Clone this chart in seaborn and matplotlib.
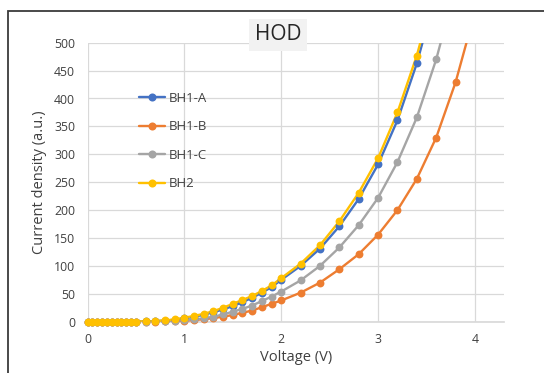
import numpy as np
import pandas as pd
import matplotlib.pyplot as plt
import seaborn as sns
from matplotlib.lines import Line2D
from matplotlib.patches import Rectangle

# voltage steps (V): 0.05 up to 0.5, 0.1 up to 2.0, then 0.2
voltage = [0.0, 0.05, 0.1, 0.15, 0.2, 0.25, 0.3, 0.35, 0.4, 0.45, 0.5,
           0.6, 0.7, 0.8, 0.9, 1.0, 1.1, 1.2, 1.3, 1.4, 1.5, 1.6, 1.7, 1.8, 1.9, 2.0,
           2.2, 2.4, 2.6, 2.8, 3.0, 3.2, 3.4, 3.6, 3.8, 4.0]

low = [0, 0, 0, 0, 0, 0, 0, 0.1, 0.1, 0.1, 0.2]

bh1_a = low + [0.5, 1.0, 2.0, 3.5, 6, 9, 12.5, 17, 22, 28, 35, 43, 52, 62, 75,
               100, 131, 171, 220, 282, 361, 463, 590]
bh1_b = low + [0.1, 0.3, 0.6, 1.0, 1.8, 3, 4.5, 6.5, 9, 12, 16, 20, 26, 32, 38,
               52, 70, 94, 121, 156, 200, 256, 330, 429, 555]
bh1_c = low + [0.2, 0.4, 0.8, 1.5, 2.5, 4, 6, 9, 13, 18, 23, 29, 37, 45, 54,
               74, 100, 133, 173, 222, 286, 366, 470, 600]
bh2 = low + [0.6, 1.2, 2.3, 4.0, 7, 10.5, 14, 19, 25, 32, 39, 46, 55, 65, 78,
             104, 137, 180, 231, 293, 375, 477, 605]

series = ['BH1-A', 'BH1-B', 'BH1-C', 'BH2']
values = [bh1_a, bh1_b, bh1_c, bh2]
colors = ['#4472C4', '#ED7D31', '#A5A5A5', '#FFC000']

sns.set_theme(style='white')
plt.rcParams['font.family'] = ['Open Sans', 'DejaVu Sans']

fig = plt.figure(figsize=(5.44, 3.73), dpi=100)
ax = fig.add_axes([87.5 / 544, 1 - 321.7 / 373, (504 - 87.5) / 544, (321.7 - 42.7) / 373])

for name, vals, col in zip(series, values, colors):
    df = pd.DataFrame({'V': voltage[:len(vals)], 'J': vals})
    sns.lineplot(data=df, x='V', y='J', color=col, lw=1.7, ax=ax, zorder=3)
    vis = df[df['J'] <= 500]
    sns.scatterplot(data=vis, x='V', y='J', color=col, s=32, linewidth=0,
                    ax=ax, zorder=4, clip_on=False)

ax.set_xlim(0, 4.3)
ax.set_ylim(0, 500)
ax.set_xticks([0, 1, 2, 3, 4])
ax.set_yticks(np.arange(0, 501, 50))
ax.grid(True, color='#D9D9D9', lw=0.9)
ax.set_axisbelow(True)
for side in ['top', 'right', 'left']:
    ax.spines[side].set_visible(False)
ax.spines['bottom'].set_color('#D9D9D9')
ax.tick_params(axis='both', length=0, labelsize=8.8, colors='#404040')
ax.tick_params(axis='y', pad=9)
ax.tick_params(axis='x', pad=8)
ax.set_xlabel('Voltage (V)', fontsize=10.5, color='#404040', labelpad=3)
ax.set_ylabel('Current density (a.u.)', fontsize=10.5, color='#404040', labelpad=5)

handles = [Line2D([], [], color=c, lw=1.7, marker='o', markersize=5.8,
                  markeredgewidth=0) for c in colors]
ax.legend(handles, series, loc='upper left', bbox_to_anchor=(139 / 544, 1 - 92 / 373),
          bbox_transform=fig.transFigure, frameon=False, fontsize=9.5,
          labelspacing=1.17, handlelength=2.0, handletextpad=0.25,
          borderpad=0, borderaxespad=0, labelcolor='#404040')

fig.text(278 / 544, 1 - 35 / 373, 'HOD', fontsize=15, color='#262626',
         ha='center', va='center', zorder=5,
         bbox=dict(boxstyle='square,pad=0.28', fc='#F2F2F2', ec='none'))

fig.patches.append(Rectangle((8 / 544, -0.1), 1.2, 1.1 - 11.5 / 373, transform=fig.transFigure,
                             fill=False, ec='#3A3A3A', lw=1.3))

fig.savefig('out.png', dpi=100)
